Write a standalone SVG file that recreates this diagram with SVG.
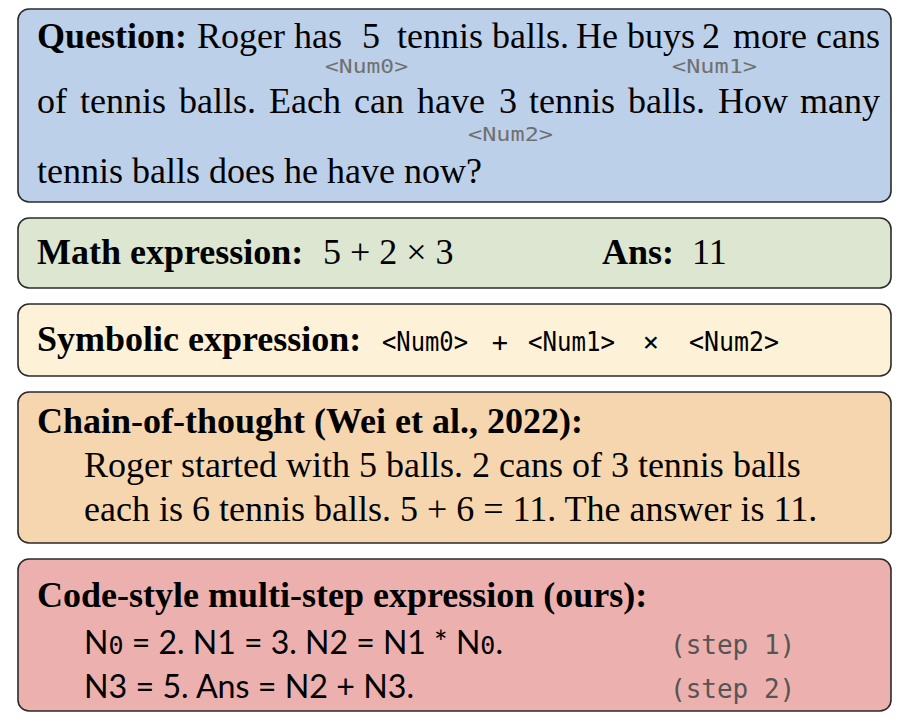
<svg xmlns="http://www.w3.org/2000/svg" width="907" height="723" viewBox="0 0 907 723">
<style>
.box{stroke:#2b2b2b;stroke-width:1.6}
.t{font-family:"Liberation Serif","Times New Roman",serif;font-size:36px;fill:#000}
.b{font-weight:bold}
.lab{font-family:"DejaVu Sans Mono",monospace;font-size:19px;fill:#707070}
.mono{font-family:"DejaVu Sans Mono",monospace;font-size:27px;fill:#000}
.code{font-family:Lato,"Liberation Sans",sans-serif;font-size:32px;fill:#000}
.z{font-family:"DejaVu Sans Mono",monospace;font-size:25px}
.step{font-family:"DejaVu Sans Mono",monospace;font-size:26px;fill:#555}
</style>
<rect width="907" height="723" fill="#fff"/>
<g id="question">
<rect class="box" x="18" y="9" width="873" height="193" rx="11" fill="#bdd0e9"/>
<text class="t" y="48"><tspan class="b" x="37">Question:</tspan><tspan x="197">Roger has</tspan><tspan x="362">5</tspan><tspan x="397">tennis balls.</tspan><tspan x="576">He buys</tspan><tspan x="702">2</tspan><tspan x="880" text-anchor="end">more cans</tspan></text>
<text class="lab" x="325" y="73" textLength="83" lengthAdjust="spacingAndGlyphs">&lt;Num0&gt;</text>
<text class="lab" x="672" y="73" textLength="85" lengthAdjust="spacingAndGlyphs">&lt;Num1&gt;</text>
<text class="t" y="113"><tspan x="37">of</tspan><tspan x="80">tennis</tspan><tspan x="179">balls.</tspan><tspan x="269">Each</tspan><tspan x="354">can</tspan><tspan x="417">have</tspan><tspan x="499">3</tspan><tspan x="529">tennis</tspan><tspan x="628">balls.</tspan><tspan x="718">How</tspan><tspan x="880" text-anchor="end">many</tspan></text>
<text class="lab" x="468" y="141" textLength="85" lengthAdjust="spacingAndGlyphs">&lt;Num2&gt;</text>
<text class="t" x="37" y="183">tennis balls does he have now?</text>
</g>
<g id="math">
<rect class="box" x="18" y="218" width="873" height="70" rx="11" fill="#dce6d0"/>
<text class="t" y="264"><tspan class="b" x="37">Math expression:</tspan><tspan x="323">5 + 2 × 3</tspan><tspan class="b" x="602">Ans:</tspan><tspan x="692">11</tspan></text>
</g>
<g id="symbolic">
<rect class="box" x="18" y="304" width="873" height="72" rx="11" fill="#fdf2d8"/>
<text class="t b" x="37" y="351">Symbolic expression:</text>
<text class="mono" x="382" y="351" textLength="86" lengthAdjust="spacingAndGlyphs">&lt;Num0&gt;</text>
<text class="mono" x="500" y="351" text-anchor="middle">+</text>
<text class="mono" x="528" y="351" textLength="87" lengthAdjust="spacingAndGlyphs">&lt;Num1&gt;</text>
<text class="mono" x="651" y="351" text-anchor="middle">×</text>
<text class="mono" x="689" y="351" textLength="90" lengthAdjust="spacingAndGlyphs">&lt;Num2&gt;</text>
</g>
<g id="cot">
<rect class="box" x="18" y="392" width="873" height="151" rx="11" fill="#f6d6ae"/>
<text class="t b" x="37" y="433">Chain-of-thought (Wei et al., 2022):</text>
<text class="t" x="84" y="477">Roger started with 5 balls. 2 cans of 3 tennis balls</text>
<text class="t" x="84" y="521">each is 6 tennis balls. 5 + 6 = 11. The answer is 11.</text>
</g>
<g id="code">
<rect class="box" x="18" y="559" width="873" height="152" rx="11" fill="#ecb1ae"/>
<text class="t b" x="37" y="607">Code-style multi-step expression (ours):</text>
<text class="code" x="84" y="654" font-size="31">N<tspan class="z">0</tspan> = 2. N1 = 3. N2 = N1 * N<tspan class="z">0</tspan>.</text>
<text class="step" x="670" y="654">(step 1)</text>
<text class="code" x="84" y="698" textLength="330" lengthAdjust="spacingAndGlyphs">N3 = 5. Ans = N2 + N3.</text>
<text class="step" x="670" y="698">(step 2)</text>
</g>
</svg>
